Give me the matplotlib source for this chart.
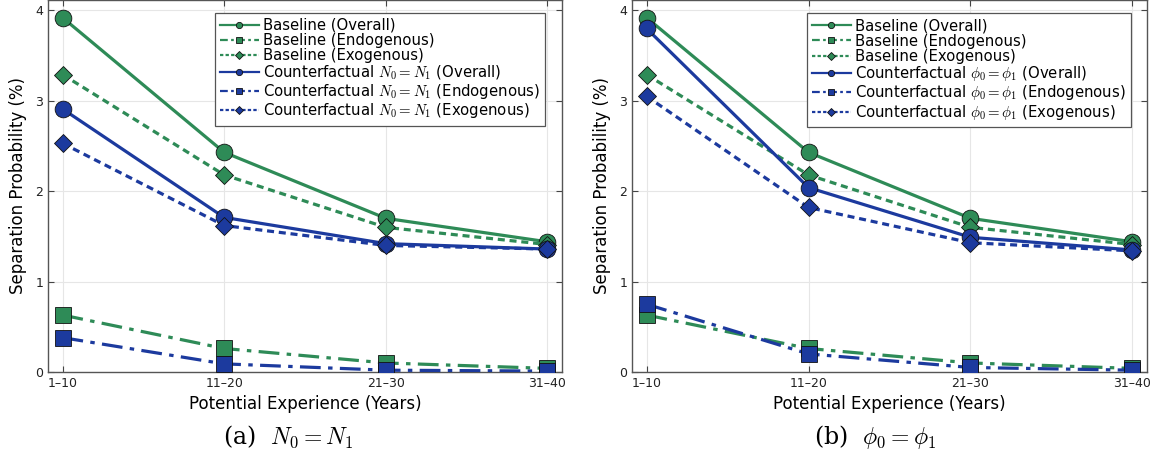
import matplotlib
matplotlib.use("Agg")
import matplotlib.pyplot as plt
from matplotlib.lines import Line2D

categories = ["1–10", "11–20", "21–30", "31–40"]

base_overall = [3.92, 2.43, 1.70, 1.44]
base_endog = [0.63, 0.26, 0.10, 0.04]
base_exog = [3.29, 2.18, 1.60, 1.41]

cfN_overall = [2.91, 1.71, 1.42, 1.36]
cfN_endog = [0.38, 0.09, 0.02, 0.01]
cfN_exog = [2.53, 1.62, 1.40, 1.36]

cfP_overall = [3.80, 2.04, 1.49, 1.35]
cfP_endog = [0.75, 0.20, 0.05, 0.02]
cfP_exog = [3.05, 1.82, 1.43, 1.34]

GREEN = "#2e8b57"
BLUE = "#1c3a9e"

plt.rcParams["font.family"] = ["DejaVu Sans"]
plt.rcParams["mathtext.fontset"] = "cm"

fig = plt.figure(figsize=(11.58, 4.63), dpi=100)
W, H = 1158, 463
ax1 = fig.add_axes([48 / W, (463 - 372) / H, 514 / W, 372 / H])
ax2 = fig.add_axes([632 / W, (463 - 372) / H, 515 / W, 372 / H])

LW = 2.3
dash_exog = (2.2, 1.5)
dash_endog = (6.5, 2.3, 1.4, 2.3)


def draw(ax, cf_overall, cf_endog, cf_exog, cf_label, anchor):
    x = list(range(len(categories)))
    series = [
        (base_overall, GREEN, "-", None, "o", 12, "Baseline (Overall)"),
        (base_endog, GREEN, "--", dash_endog, "s", 12, "Baseline (Endogenous)"),
        (base_exog, GREEN, "--", dash_exog, "D", 9.5, "Baseline (Exogenous)"),
        (cf_overall, BLUE, "-", None, "o", 12, "Counterfactual " + cf_label + " (Overall)"),
        (cf_endog, BLUE, "--", dash_endog, "s", 12, "Counterfactual " + cf_label + " (Endogenous)"),
        (cf_exog, BLUE, "--", dash_exog, "D", 9.5, "Counterfactual " + cf_label + " (Exogenous)"),
    ]
    handles = []
    for vals, col, ls, dashes, mk, ms, lab in series:
        kw = {}
        if dashes is not None:
            kw["dashes"] = dashes
        ax.plot(x, vals, color=col, linestyle=ls, linewidth=LW, marker=mk,
                markersize=ms, markeredgecolor="#111111", markeredgewidth=0.6,
                zorder=3, **kw)
        hkw = {}
        if dashes is not None:
            hkw["dashes"] = (3.5, 1.5, 1.2, 1.5) if dashes == dash_endog else (1.5, 1.0)
        handles.append(Line2D([0], [0], color=col, linestyle=ls, linewidth=1.6,
                              marker=mk, markersize=4.5 if mk != "D" else 4,
                              markeredgecolor="#111111", markeredgewidth=0.6,
                              label=lab, **hkw))
    ax.set_xlim(-0.09, 3.09)
    ax.set_ylim(0, 4.115)
    ax.set_xticks(x)
    ax.set_xticklabels(categories)
    ax.set_yticks([0, 1, 2, 3, 4])
    ax.tick_params(direction="in", length=4, width=0.8, labelsize=9,
                   top=True, right=True, colors="#444444", labelcolor="#222222")
    ax.grid(True, color="#e6e6e6", linewidth=0.8)
    ax.set_axisbelow(True)
    for s in ax.spines.values():
        s.set_color("#555555")
        s.set_linewidth(1.0)
    ax.set_xlabel("Potential Experience (Years)", fontsize=12, labelpad=4)
    ax.set_ylabel("Separation Probability (%)", fontsize=12, labelpad=6)
    leg = ax.legend(handles=handles, loc="upper right", bbox_to_anchor=anchor,
                    fontsize=10.7, frameon=True, fancybox=False, framealpha=1,
                    edgecolor="#555555", labelspacing=0.02, handlelength=2.6,
                    handletextpad=0.3, borderpad=0.35, borderaxespad=0)
    leg.get_frame().set_linewidth(0.9)
    leg.set_zorder(5)


draw(ax1, cfN_overall, cfN_endog, cfN_exog, r"$N_0 = N_1$", (0.967, 0.966))
draw(ax2, cfP_overall, cfP_endog, cfP_exog, r"$\phi_0 = \phi_1$", (0.969, 0.965))

fig.text(288 / W, 1 - 437 / H, r"(a)  $N_0 = N_1$", ha="center", va="center",
         fontsize=17, family="DejaVu Serif")
fig.text(875 / W, 1 - 437 / H, r"(b)  $\phi_0 = \phi_1$", ha="center", va="center",
         fontsize=17, family="DejaVu Serif")

fig.savefig("out.png", dpi=100)
